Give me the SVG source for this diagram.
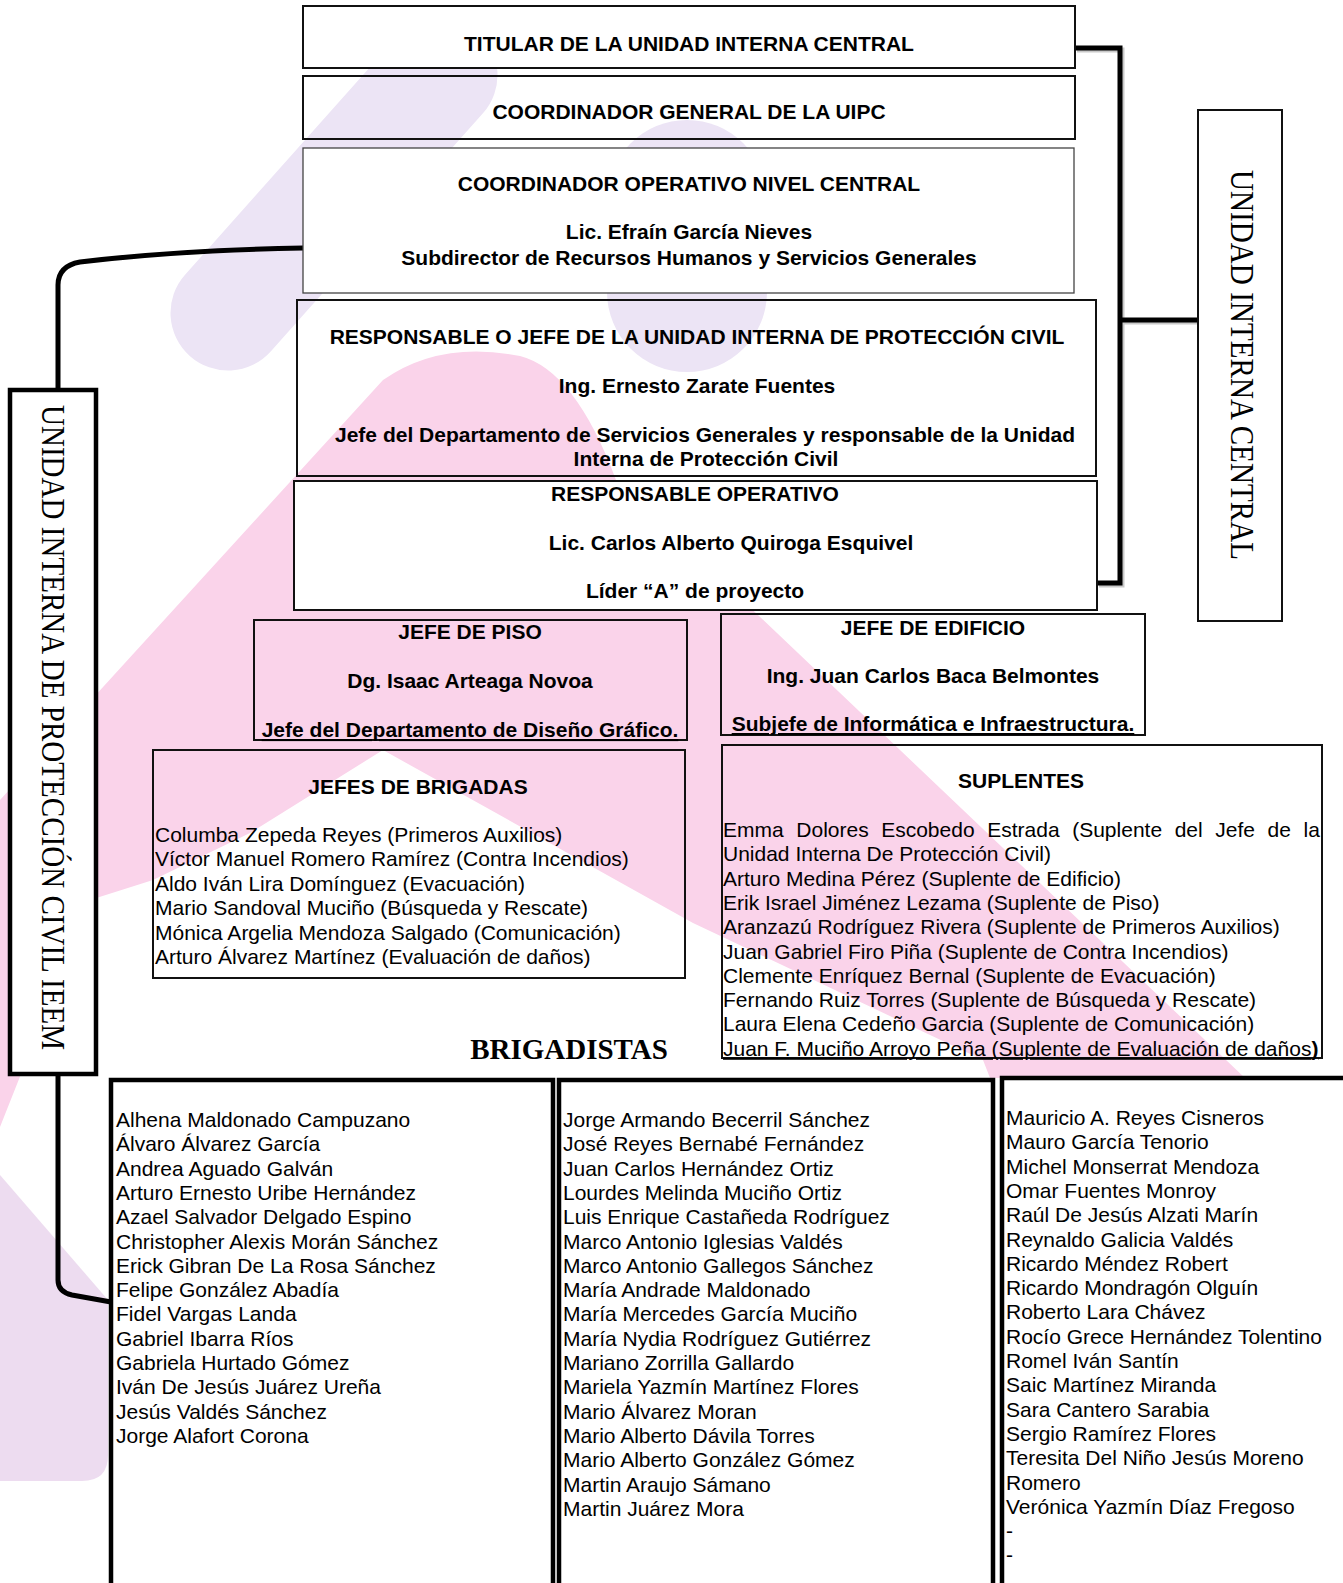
<svg xmlns="http://www.w3.org/2000/svg" width="1343" height="1583" viewBox="0 0 1343 1583">
<style>
.b{font-family:"Liberation Sans",Arial,sans-serif;font-weight:bold;font-size:21px;text-anchor:middle;fill:#000}
.r{font-family:"Liberation Sans",Arial,sans-serif;font-size:21px;fill:#000}
.v{font-family:"Liberation Serif","Times New Roman",serif;font-size:33px;fill:#000}
.t{font-family:"Liberation Serif","Times New Roman",serif;font-weight:bold;font-size:29px;text-anchor:middle;fill:#000}
.u{text-decoration:underline}
.bx{fill:none;stroke:#111;stroke-width:2}
.wb{fill:#fff;stroke:#111;stroke-width:2}
.tk{fill:#fff;stroke:#000;stroke-width:4.5}
.cn{fill:none;stroke:#000;stroke-width:5}
.sh{fill:none;stroke:#888;stroke-width:5;opacity:.45}
</style>
<rect width="1343" height="1583" fill="#fff"/>
<g id="watermark">
<path d="M228 313 L440 75" stroke="#ece4f5" stroke-width="115" stroke-linecap="round" fill="none"/>
<path d="M687 292 L687 200" stroke="#ece4f5" stroke-width="160" stroke-linecap="round" fill="none"/>
<path d="M0 1175 L108 1300 L108 1455 Q108 1481 82 1481 L0 1481 Z" fill="#eddcf0"/>
<path d="M0 800 L383 380 Q440 340 520 356 Q575 370 616 480 L1245 1078 L990 1078 L983 1060 L693 923 L383 750 L250 833 L153 880 L90 900 L0 1127 Z" fill="#fad3ea"/>
</g>
<g id="connectors">
<path class="sh" d="M1077 50 H1122 V585 H1099 M1122 322 H1200"/>
<path class="cn" d="M1075 48 H1120 V583 H1097 M1120 320 H1198"/>
<path class="cn" d="M303 248 Q180 250 80 262 Q58 266 58 285 V390"/>
<path class="cn" d="M58 1074 V1280 Q58 1292 72 1295 L111 1302"/>
</g>
<g id="n-titular">
<rect class="wb" x="303" y="6" width="772" height="62"/>
<text class="b" x="689" y="51">TITULAR DE LA UNIDAD INTERNA CENTRAL</text>
</g>
<g id="n-coord-general">
<rect class="bx" x="303" y="76" width="772" height="63"/>
<text class="b" x="689" y="119">COORDINADOR GENERAL DE LA UIPC</text>
</g>
<g id="n-coord-operativo">
<rect x="303" y="148" width="771" height="145" fill="#fff" stroke="#444" stroke-width="1.3"/>
<text class="b" x="689" y="191">COORDINADOR OPERATIVO NIVEL CENTRAL</text>
<text class="b" x="689" y="239">Lic. Efraín García Nieves</text>
<text class="b" x="689" y="265">Subdirector de Recursos Humanos y Servicios Generales</text>
</g>
<g id="n-responsable-uipc">
<rect class="bx" x="297" y="300" width="799" height="176"/>
<text class="b" x="697" y="344">RESPONSABLE O JEFE DE LA UNIDAD INTERNA DE PROTECCIÓN CIVIL</text>
<text class="b" x="697" y="393">Ing. Ernesto Zarate Fuentes</text>
<text class="b" x="705" y="442">Jefe del Departamento de Servicios Generales y responsable de la Unidad</text>
<text class="b" x="706" y="466">Interna de Protección Civil</text>
</g>
<g id="n-responsable-operativo">
<rect class="wb" x="294" y="481" width="803" height="129"/>
<text class="b" x="695" y="501">RESPONSABLE OPERATIVO</text>
<text class="b" x="731" y="550">Lic. Carlos Alberto Quiroga Esquivel</text>
<text class="b" x="695" y="598">Líder “A” de proyecto</text>
</g>
<g id="n-jefe-piso">
<rect class="bx" x="254" y="620" width="433" height="120"/>
<text class="b" x="470" y="639">JEFE DE PISO</text>
<text class="b" x="470" y="688">Dg. Isaac Arteaga Novoa</text>
<text class="b u" x="470" y="737">Jefe del Departamento de Diseño Gráfico.</text>
</g>
<g id="n-jefe-edificio">
<rect class="bx" x="721" y="614" width="424" height="121"/>
<text class="b" x="933" y="635">JEFE DE EDIFICIO</text>
<text class="b" x="933" y="683">Ing. Juan Carlos Baca Belmontes</text>
<text class="b u" x="933" y="731">Subjefe de Informática e Infraestructura.</text>
</g>
<g id="n-jefes-brigadas">
<rect class="bx" x="153" y="750" width="532" height="228"/>
<text class="b" x="418" y="794">JEFES DE BRIGADAS</text>
<text class="r" x="155" y="842">Columba Zepeda Reyes (Primeros Auxilios)</text>
<text class="r" x="155" y="866.4">Víctor Manuel Romero Ramírez (Contra Incendios)</text>
<text class="r" x="155" y="890.8">Aldo Iván Lira Domínguez (Evacuación)</text>
<text class="r" x="155" y="915.2">Mario Sandoval Muciño (Búsqueda y Rescate)</text>
<text class="r" x="155" y="939.6">Mónica Argelia Mendoza Salgado (Comunicación)</text>
<text class="r" x="155" y="964">Arturo Álvarez Martínez (Evaluación de daños)</text>
</g>
<g id="n-suplentes">
<rect class="bx" x="722" y="745" width="600" height="313"/>
<text class="b" x="1021" y="788">SUPLENTES</text>
<text class="r" y="837"><tspan x="723">Emma</tspan><tspan x="796.3">Dolores</tspan><tspan x="881.2">Escobedo</tspan><tspan x="987.2">Estrada</tspan><tspan x="1072.2">(Suplente</tspan><tspan x="1174.7">del</tspan><tspan x="1215.3">Jefe</tspan><tspan x="1267.6">de</tspan><tspan x="1303.6">la</tspan></text>
<text class="r" x="723" y="861.3">Unidad Interna De Protección Civil)</text>
<text class="r" x="723" y="885.6">Arturo Medina Pérez (Suplente de Edificio)</text>
<text class="r" x="723" y="909.9">Erik Israel Jiménez Lezama (Suplente de Piso)</text>
<text class="r" x="723" y="934.2">Aranzazú Rodríguez Rivera (Suplente de Primeros Auxilios)</text>
<text class="r" x="723" y="958.5">Juan Gabriel Firo Piña (Suplente de Contra Incendios)</text>
<text class="r" x="723" y="982.8">Clemente Enríquez Bernal (Suplente de Evacuación)</text>
<text class="r" x="723" y="1007.1">Fernando Ruiz Torres (Suplente de Búsqueda y Rescate)</text>
<text class="r" x="723" y="1031.4">Laura Elena Cedeño Garcia (Suplente de Comunicación)</text>
<text class="r u" x="723" y="1055.7">Juan F. Muciño Arroyo Peña (Suplente de Evaluación de daños<tspan font-weight="bold">)</tspan></text>
</g>
<g id="n-uipc-ieem">
<rect class="tk" x="10" y="390" width="86" height="684"/>
<text class="v" transform="translate(42 727.5) rotate(90)" text-anchor="middle" textLength="645" lengthAdjust="spacingAndGlyphs">UNIDAD INTERNA DE PROTECCIÓN CIVIL IEEM</text>
</g>
<g id="n-uic">
<rect class="wb" x="1198" y="110" width="84" height="511"/>
<text class="v" transform="translate(1231 365) rotate(90)" text-anchor="middle" textLength="390" lengthAdjust="spacingAndGlyphs">UNIDAD INTERNA CENTRAL</text>
</g>
<g id="n-brigadistas">
<text class="t" x="569" y="1059">BRIGADISTAS</text>
<rect class="tk" x="111" y="1080" width="442" height="520"/>
<rect class="tk" x="559" y="1080" width="434" height="520"/>
<rect class="tk" x="1002" y="1078" width="360" height="520"/>
<text class="r" x="116" y="1127">Alhena Maldonado Campuzano</text>
<text class="r" x="116" y="1151.3">Álvaro Álvarez García</text>
<text class="r" x="116" y="1175.6">Andrea Aguado Galván</text>
<text class="r" x="116" y="1199.9">Arturo Ernesto Uribe Hernández</text>
<text class="r" x="116" y="1224.2">Azael Salvador Delgado Espino</text>
<text class="r" x="116" y="1248.5">Christopher Alexis Morán Sánchez</text>
<text class="r" x="116" y="1272.8">Erick Gibran De La Rosa Sánchez</text>
<text class="r" x="116" y="1297.1">Felipe González Abadía</text>
<text class="r" x="116" y="1321.4">Fidel Vargas Landa</text>
<text class="r" x="116" y="1345.7">Gabriel Ibarra Ríos</text>
<text class="r" x="116" y="1370">Gabriela Hurtado Gómez</text>
<text class="r" x="116" y="1394.3">Iván De Jesús Juárez Ureña</text>
<text class="r" x="116" y="1418.6">Jesús Valdés Sánchez</text>
<text class="r" x="116" y="1442.9">Jorge Alafort Corona</text>
<text class="r" x="563" y="1127">Jorge Armando Becerril Sánchez</text>
<text class="r" x="563" y="1151.3">José Reyes Bernabé Fernández</text>
<text class="r" x="563" y="1175.6">Juan Carlos Hernández Ortiz</text>
<text class="r" x="563" y="1199.9">Lourdes Melinda Muciño Ortiz</text>
<text class="r" x="563" y="1224.2">Luis Enrique Castañeda Rodríguez</text>
<text class="r" x="563" y="1248.5">Marco Antonio Iglesias Valdés</text>
<text class="r" x="563" y="1272.8">Marco Antonio Gallegos Sánchez</text>
<text class="r" x="563" y="1297.1">María Andrade Maldonado</text>
<text class="r" x="563" y="1321.4">María Mercedes García Muciño</text>
<text class="r" x="563" y="1345.7">María Nydia Rodríguez Gutiérrez</text>
<text class="r" x="563" y="1370">Mariano Zorrilla Gallardo</text>
<text class="r" x="563" y="1394.3">Mariela Yazmín Martínez Flores</text>
<text class="r" x="563" y="1418.6">Mario Álvarez Moran</text>
<text class="r" x="563" y="1442.9">Mario Alberto Dávila Torres</text>
<text class="r" x="563" y="1467.2">Mario Alberto González Gómez</text>
<text class="r" x="563" y="1491.5">Martin Araujo Sámano</text>
<text class="r" x="563" y="1515.8">Martin Juárez Mora</text>
<text class="r" x="1006" y="1125">Mauricio A. Reyes Cisneros</text>
<text class="r" x="1006" y="1149.3">Mauro García Tenorio</text>
<text class="r" x="1006" y="1173.6">Michel Monserrat Mendoza</text>
<text class="r" x="1006" y="1197.9">Omar Fuentes Monroy</text>
<text class="r" x="1006" y="1222.2">Raúl De Jesús Alzati Marín</text>
<text class="r" x="1006" y="1246.5">Reynaldo Galicia Valdés</text>
<text class="r" x="1006" y="1270.8">Ricardo Méndez Robert</text>
<text class="r" x="1006" y="1295.1">Ricardo Mondragón Olguín</text>
<text class="r" x="1006" y="1319.4">Roberto Lara Chávez</text>
<text class="r" x="1006" y="1343.7">Rocío Grece Hernández Tolentino</text>
<text class="r" x="1006" y="1368">Romel Iván Santín</text>
<text class="r" x="1006" y="1392.3">Saic Martínez Miranda</text>
<text class="r" x="1006" y="1416.6">Sara Cantero Sarabia</text>
<text class="r" x="1006" y="1440.9">Sergio Ramírez Flores</text>
<text class="r" x="1006" y="1465.2">Teresita Del Niño Jesús Moreno</text>
<text class="r" x="1006" y="1489.5">Romero</text>
<text class="r" x="1006" y="1513.8">Verónica Yazmín Díaz Fregoso</text>
<text class="r" x="1006" y="1538.1">-</text>
<text class="r" x="1006" y="1562.4">-</text>
</g>
</svg>
